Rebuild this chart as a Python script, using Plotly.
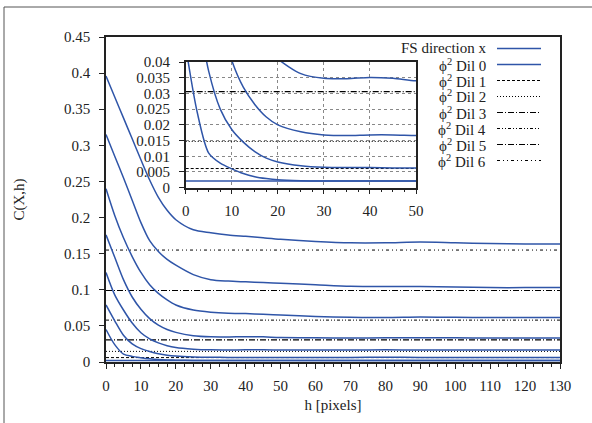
import plotly.graph_objects as go

# ---------------- data ----------------
h = [0, 2.5, 5, 7.5, 10, 12.5, 15, 17.5, 20, 25, 30, 35, 40, 45, 50,
     60, 70, 80, 90, 100, 110, 120, 130]

fs_a = [0.045, 0.024, 0.011, 0.0078, 0.0060, 0.0045, 0.0035, 0.0029, 0.0025, 0.0022, 0.0021,
        0.0021, 0.0021, 0.0021, 0.0021, 0.0021, 0.0021, 0.0022, 0.0022, 0.0021, 0.0021, 0.0021, 0.0021]
fs_b = [0.079, 0.057, 0.037, 0.025, 0.0185, 0.0145, 0.0115, 0.0094, 0.0082, 0.0070, 0.0065,
        0.0064, 0.0064, 0.0063, 0.0063, 0.0063, 0.0064, 0.0065, 0.0064, 0.0063, 0.0063, 0.0063, 0.0063]
fs_c = [0.124, 0.093, 0.072, 0.054, 0.0405, 0.032, 0.0265, 0.0225, 0.020, 0.0178, 0.0168,
        0.0166, 0.0168, 0.0168, 0.0166, 0.0165, 0.0167, 0.0168, 0.0167, 0.0166, 0.0165, 0.0165, 0.0165]
fs_d = [0.176, 0.145, 0.114, 0.090, 0.073, 0.060, 0.051, 0.045, 0.041, 0.0363, 0.0348,
        0.0347, 0.0351, 0.0348, 0.0340, 0.0335, 0.0333, 0.0335, 0.0337, 0.0335, 0.0333, 0.0332, 0.0332]
fs_e = [0.240, 0.203, 0.172, 0.146, 0.124, 0.107, 0.095, 0.086, 0.079, 0.072, 0.069,
        0.0675, 0.067, 0.066, 0.065, 0.063, 0.062, 0.0615, 0.0622, 0.0618, 0.0615, 0.0615, 0.0615]
fs_f = [0.315, 0.285, 0.255, 0.224, 0.193, 0.168, 0.153, 0.142, 0.134, 0.121, 0.114,
        0.112, 0.111, 0.110, 0.109, 0.107, 0.105, 0.1045, 0.1045, 0.104, 0.103, 0.103, 0.103]
fs_g = [0.396, 0.367, 0.338, 0.309, 0.280, 0.252, 0.228, 0.210, 0.197, 0.183, 0.179,
        0.176, 0.174, 0.172, 0.170, 0.167, 0.165, 0.165, 0.166, 0.165, 0.164, 0.1635, 0.1635]
fs_curves = [fs_a, fs_b, fs_c, fs_d, fs_e, fs_f, fs_g]

dil_names = ["Dil 0", "Dil 1", "Dil 2", "Dil 3", "Dil 4", "Dil 5", "Dil 6"]
dil_values = [0.0021, 0.0061, 0.0147, 0.0306, 0.058, 0.099, 0.155]

x_ticks = [0, 10, 20, 30, 40, 50, 60, 70, 80, 90, 100, 110, 120, 130]
y_ticks = [0, 0.05, 0.1, 0.15, 0.2, 0.25, 0.3, 0.35, 0.4, 0.45]
inset_x_ticks = [0, 10, 20, 30, 40, 50]
inset_y_ticks = [0, 0.005, 0.01, 0.015, 0.02, 0.025, 0.03, 0.035, 0.04]

# ---------------- styles ----------------
BLUE = "#2f55a8"
FONT = "Liberation Serif"
FS = 15
dil_styles = [
    dict(color=BLUE, width=1.5, dash="solid"),
    dict(color="black", width=1, dash="3px,2px"),
    dict(color="black", width=1, dash="1px,2px"),
    dict(color="black", width=1.2, dash="6px,2px,1px,2px"),
    dict(color="black", width=1, dash="3px,2px,1px,2px,1px,2px"),
    dict(color="black", width=1, dash="6px,2px,1px,2px"),
    dict(color="black", width=1, dash="3px,3px,1px,3px,1px,3px"),
]

# pixel geometry helpers (plot area: x 106..560, y 37..362)
L, R, T, B = 106, 32, 37, 61
W, Hgt = 592, 423
PW, PH = W - L - R, Hgt - T - B


def px(x):
    return (x - L) / PW


def py(y):
    return (Hgt - B - y) / PH


fig = go.Figure()

for xa, ya in [("x", "y"), ("x2", "y2")]:
    for v, st in zip(dil_values, dil_styles):
        fig.add_trace(go.Scatter(x=[h[0], h[-1]], y=[v, v], mode="lines", line=st,
                                 xaxis=xa, yaxis=ya, showlegend=False, hoverinfo="skip"))
    for c in fs_curves:
        fig.add_trace(go.Scatter(x=h, y=c, mode="lines",
                                 line=dict(color=BLUE, width=1.5, shape="spline", smoothing=0.8),
                                 xaxis=xa, yaxis=ya, showlegend=False))

axis_common = dict(showline=True, mirror=True, linecolor="#222", linewidth=1.5,
                   ticks="outside", tickcolor="#222", ticklen=5, zeroline=False,
                   automargin=False,
                   tickfont=dict(family=FONT, size=FS, color="#222"))

fig.update_layout(
    width=W, height=Hgt,
    margin=dict(l=L, r=R, t=T, b=B, autoexpand=False),
    paper_bgcolor="white", plot_bgcolor="white",
    showlegend=False,
    font=dict(family=FONT, size=FS, color="#222"),
    xaxis=dict(range=[0, 130], tickvals=x_ticks, showgrid=False,
               minor=dict(dtick=2.5, ticks="outside", ticklen=3, tickcolor="#222"),
               title=dict(text="h [pixels]", font=dict(family=FONT, size=FS), standoff=7),
               ticklabelstandoff=4, **axis_common),
    yaxis=dict(range=[0, 0.45], tickvals=y_ticks, showgrid=False,
               title=dict(text="C(X,h)", font=dict(family=FONT, size=FS), standoff=36),
               ticklabelstandoff=6, **axis_common),
    xaxis2=dict(domain=[px(185.7), px(416)], anchor="y2", range=[0, 50],
                tickvals=inset_x_ticks, showgrid=True, gridcolor="#888", griddash="dot",
                gridwidth=1,
                minor=dict(dtick=2.5, ticks="outside", ticklen=3, tickcolor="#222"),
                ticklabelstandoff=4, **axis_common),
    yaxis2=dict(domain=[py(187.7), py(62)], anchor="x2", range=[0, 0.04],
                tickvals=inset_y_ticks, showgrid=True, gridcolor="#888", griddash="dot",
                gridwidth=1, ticklabelstandoff=6, **axis_common),
)

# outer frame (top and left edges)
fig.add_shape(type="line", xref="paper", yref="paper", x0=px(4), x1=px(W + 2), y0=py(7), y1=py(7),
              line=dict(color="#555", width=1))
fig.add_shape(type="line", xref="paper", yref="paper", x0=px(4), x1=px(4), y0=py(7), y1=py(Hgt + 2),
              line=dict(color="#555", width=1))

# key (gnuplot style: text right-aligned, sample to the right)
labels = ["FS direction x"] + ["ϕ<sup>2</sup> " + n for n in dil_names]
styles = [dict(color=BLUE, width=1.5, dash="solid")] + dil_styles
for i, (lab, st) in enumerate(zip(labels, styles)):
    yy = 48.5 + i * 16
    fig.add_annotation(xref="paper", yref="paper", x=px(488), y=py(yy), text=lab,
                       showarrow=False, xanchor="right", yanchor="middle",
                       font=dict(family=FONT, size=FS, color="#222"))
    fig.add_shape(type="line", xref="paper", yref="paper", x0=px(497), x1=px(541),
                  y0=py(yy), y1=py(yy), line=st)

fig.write_html("out.html")
